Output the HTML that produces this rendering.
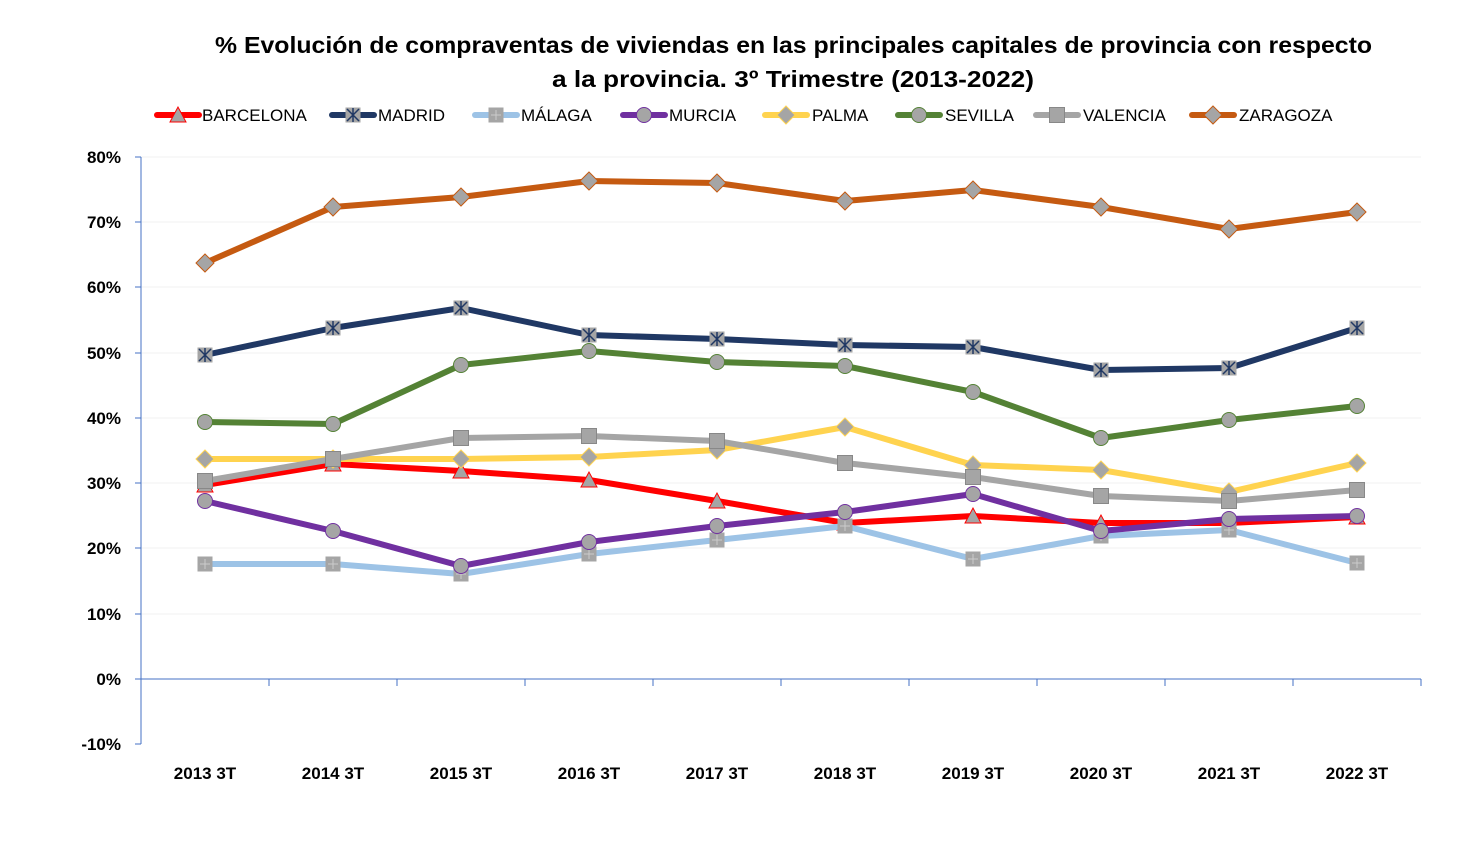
<!DOCTYPE html>
<html><head><meta charset="utf-8"><style>
body{margin:0;background:#fff;}
svg{display:block;font-family:"Liberation Sans",sans-serif;}
</style></head><body>
<svg id="c" width="1481" height="846" viewBox="0 0 1481 846" xmlns="http://www.w3.org/2000/svg">
<rect width="1481" height="846" fill="#fff"/>
<text x="215" y="53" font-size="23" font-weight="bold" fill="#000" textLength="1157" lengthAdjust="spacingAndGlyphs">% Evolución de compraventas de viviendas en las principales capitales de provincia con respecto</text>
<text x="552" y="87" font-size="23" font-weight="bold" fill="#000" textLength="482" lengthAdjust="spacingAndGlyphs">a la provincia.  3º Trimestre (2013-2022)</text>
<g stroke="#f2f2f2" stroke-width="1">
<line x1="141" x2="1421" y1="157" y2="157"/><line x1="141" x2="1421" y1="222" y2="222"/><line x1="141" x2="1421" y1="287" y2="287"/><line x1="141" x2="1421" y1="353" y2="353"/><line x1="141" x2="1421" y1="418" y2="418"/><line x1="141" x2="1421" y1="483" y2="483"/><line x1="141" x2="1421" y1="548" y2="548"/><line x1="141" x2="1421" y1="614" y2="614"/>
</g>
<g stroke="#4472c4" stroke-width="1">
<line x1="141" x2="141" y1="157" y2="744"/>
<line x1="141" x2="1421" y1="679" y2="679"/>
<line x1="135" x2="141" y1="157" y2="157"/><line x1="135" x2="141" y1="222" y2="222"/><line x1="135" x2="141" y1="287" y2="287"/><line x1="135" x2="141" y1="353" y2="353"/><line x1="135" x2="141" y1="418" y2="418"/><line x1="135" x2="141" y1="483" y2="483"/><line x1="135" x2="141" y1="548" y2="548"/><line x1="135" x2="141" y1="614" y2="614"/><line x1="135" x2="141" y1="679" y2="679"/><line x1="135" x2="141" y1="744" y2="744"/>
<line x1="269" x2="269" y1="679" y2="686"/><line x1="397" x2="397" y1="679" y2="686"/><line x1="525" x2="525" y1="679" y2="686"/><line x1="653" x2="653" y1="679" y2="686"/><line x1="781" x2="781" y1="679" y2="686"/><line x1="909" x2="909" y1="679" y2="686"/><line x1="1037" x2="1037" y1="679" y2="686"/><line x1="1165" x2="1165" y1="679" y2="686"/><line x1="1293" x2="1293" y1="679" y2="686"/><line x1="1421" x2="1421" y1="679" y2="686"/>
</g>
<g font-size="17" font-weight="bold" text-anchor="end" fill="#000">
<text x="121" y="163">80%</text><text x="121" y="228">70%</text><text x="121" y="293">60%</text><text x="121" y="359">50%</text><text x="121" y="424">40%</text><text x="121" y="489">30%</text><text x="121" y="554">20%</text><text x="121" y="620">10%</text><text x="121" y="685">0%</text><text x="121" y="750">-10%</text>
</g>
<g font-size="17" font-weight="bold" text-anchor="middle" fill="#000">
<text x="205" y="779">2013 3T</text><text x="333" y="779">2014 3T</text><text x="461" y="779">2015 3T</text><text x="589" y="779">2016 3T</text><text x="717" y="779">2017 3T</text><text x="845" y="779">2018 3T</text><text x="973" y="779">2019 3T</text><text x="1101" y="779">2020 3T</text><text x="1229" y="779">2021 3T</text><text x="1357" y="779">2022 3T</text>
</g>
<g font-size="17" fill="#000">
<text x="202" y="121">BARCELONA</text><text x="378" y="121">MADRID</text><text x="521" y="121">MÁLAGA</text><text x="669" y="121">MURCIA</text><text x="812" y="121">PALMA</text><text x="945" y="121">SEVILLA</text><text x="1083" y="121">VALENCIA</text><text x="1239" y="121">ZARAGOZA</text>
</g>
<g id="series"></g>
</svg>
<script>
var X=[205,333,461,589,717,845,973,1101,1229,1357];
var S=[
["#ff0000","tri",[485,464,471,480,501,523,516,523,523,517],157],
["#203864","x",[355,328,308,335,339,345,347,370,368,328],332],
["#9dc3e6","sq2",[564,564,574,554,540,526,559,536,530,563],475],
["#7030a0","c",[501,531,566,542,526,512,494,531,519,516],623],
["#ffd34f","d",[459,459,459,457,450,427,465,470,492,463],765],
["#548235","c",[422,424,365,351,362,366,392,438,420,406],898],
["#a5a5a5","sq",[481,459,438,436,441,463,477,496,501,490],1036],
["#c55a11","d",[263,207,197,181,183,201,190,207,229,212],1192]];
var g=document.getElementById('series'),h='';
function mk(t,x,y,col){var f='#a5a5a5';
 if(t=='tri')return '<polygon points="'+x+','+(y-8)+' '+(x-8)+','+(y+7)+' '+(x+8)+','+(y+7)+'" fill="'+f+'" stroke="'+col+'" stroke-width="1"/>';
 if(t=='c')return '<circle cx="'+x+'" cy="'+y+'" r="7.5" fill="'+f+'" stroke="'+col+'" stroke-width="1"/>';
 if(t=='d')return '<polygon points="'+x+','+(y-9)+' '+(x+9)+','+y+' '+x+','+(y+9)+' '+(x-9)+','+y+'" fill="'+f+'" stroke="'+col+'" stroke-width="1"/>';
 if(t=='sq')return '<rect x="'+(x-7.5)+'" y="'+(y-7.5)+'" width="15" height="15" fill="'+f+'" stroke="#888" stroke-width="1"/>';
 if(t=='sq2')return '<rect x="'+(x-7.5)+'" y="'+(y-7.5)+'" width="15" height="15" fill="'+f+'"/><path d="M'+x+' '+(y-5)+'V'+(y+5)+'M'+(x-5)+' '+y+'H'+(x+5)+'" stroke="#ccc" stroke-width="1"/>';
 if(t=='x')return '<rect x="'+(x-7.5)+'" y="'+(y-7.5)+'" width="15" height="15" fill="'+f+'"/><path d="M'+(x-6)+' '+(y-6)+'L'+(x+6)+' '+(y+6)+'M'+(x+6)+' '+(y-6)+'L'+(x-6)+' '+(y+6)+'M'+x+' '+(y-7)+'V'+(y+7)+'" stroke="'+col+'" stroke-width="1.5"/>';
}
S.forEach(function(s){var p=X.map(function(x,i){return x+','+s[2][i]}).join(' ');
 h+='<polyline points="'+p+'" fill="none" stroke="'+s[0]+'" stroke-width="6" stroke-linejoin="round"/>';
 X.forEach(function(x,i){h+=mk(s[1],x,s[2][i],s[0]);});
 var lx=s[3];h+='<line x1="'+lx+'" x2="'+(lx+42)+'" y1="115" y2="115" stroke="'+s[0]+'" stroke-width="6" stroke-linecap="round"/>'+mk(s[1],lx+21,115,s[0]);
});
g.innerHTML=h;
</script>
</body></html>
